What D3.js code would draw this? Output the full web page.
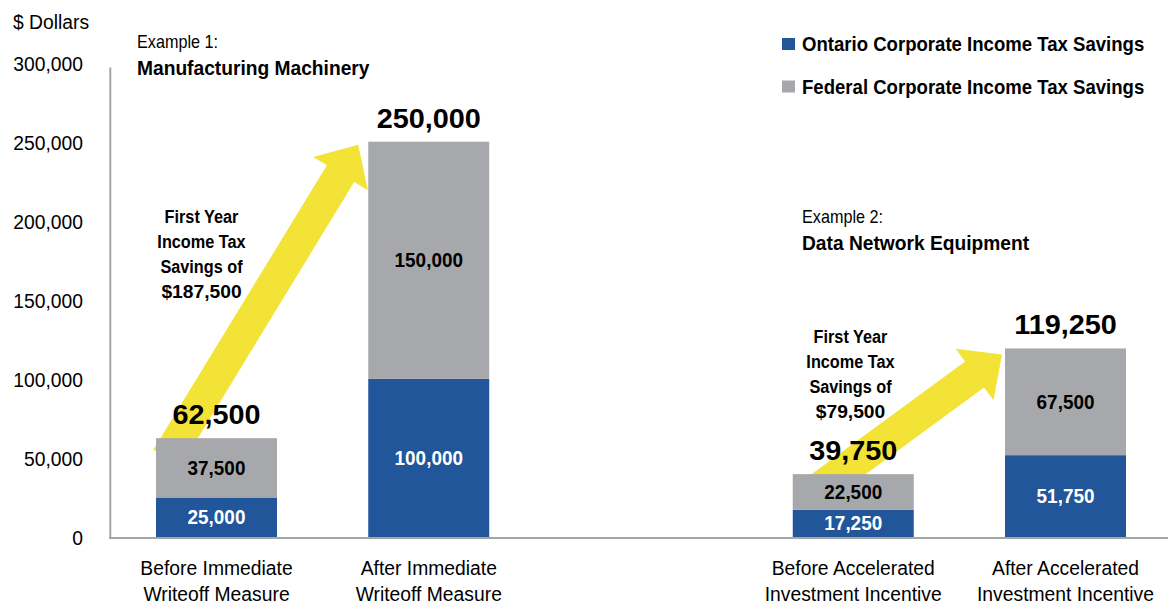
<!DOCTYPE html>
<html>
<head>
<meta charset="utf-8">
<script src="https://cdn.jsdelivr.net/npm/d3@7"></script>
<style>
  html, body { margin: 0; padding: 0; background: #fff; }
  svg { display: block; font-family: "Liberation Sans", Arial, sans-serif; }
</style>
</head>
<body>
<svg id="chart" width="1168" height="606"></svg>
<script>
// ---- Data ----
const categories = [
  ["Before Immediate", "Writeoff Measure"],
  ["After Immediate", "Writeoff Measure"],
  ["Before Accelerated", "Investment Incentive"],
  ["After Accelerated", "Investment Incentive"]
];
const ontarioSavings = [25000, 100000, 17250, 51750];
const federalSavings = [37500, 150000, 22500, 67500];
const seriesNames = ["Ontario Corporate Income Tax Savings", "Federal Corporate Income Tax Savings"];
const yTicks = [0, 50000, 100000, 150000, 200000, 250000, 300000];
const exampleLabels = ["Example 1:", "Example 2:"];
const exampleNames = ["Manufacturing Machinery", "Data Network Equipment"];
// each example compares a "before" bar with an "after" bar
const examplePairs = [[0, 1], [2, 3]];

// ---- Styles ----
const BLUE = "#21579a";
const GRAY = "#a7a8ab";
const YELLOW = "#f2e336";
const AXIS = "#a6a6a6";

const W = 1168, H = 606;
const plot = { left: 110, right: 1168, top: 62.6, bottom: 537 };

const svg = d3.select("#chart");

// horizontal slots: one empty slot separates the two examples
const slotKeys = ["c0", "c1", "gap", "c2", "c3"];
const x = d3.scaleBand()
  .domain(slotKeys)
  .range([156, 1126])
  .paddingInner(0.43)
  .paddingOuter(0);
const xKey = i => slotKeys[i < 2 ? i : i + 1];

const y = d3.scaleLinear().domain([0, 300000]).range([plot.bottom, plot.top]);

const fmt = d3.format(",");
const totals = ontarioSavings.map((v, i) => v + federalSavings[i]);

// text helper: horizontally scaled to get a condensed face
function drawText(parent, px, py, str, o) {
  return parent.append("text")
    .attr("transform", `translate(${px},${py}) scale(${o.sx ?? 1},1)`)
    .attr("text-anchor", o.anchor || "start")
    .attr("font-size", o.size)
    .attr("font-weight", o.bold ? 700 : 400)
    .attr("fill", o.fill || "#000")
    .text(str);
}

// arrow polygon from a tail point to a tip point
function arrowPoints(x0, y0, x1, y1, shaftW, headW, headL) {
  const dx = x1 - x0, dy = y1 - y0, L = Math.hypot(dx, dy);
  const ux = dx / L, uy = dy / L, nx = -uy, ny = ux;
  const bx = x1 - ux * headL, by = y1 - uy * headL;
  const s = shaftW / 2, h = headW / 2;
  return [
    [x0 + nx * s, y0 + ny * s],
    [bx + nx * s, by + ny * s],
    [bx + nx * h, by + ny * h],
    [x1, y1],
    [bx - nx * h, by - ny * h],
    [bx - nx * s, by - ny * s],
    [x0 - nx * s, y0 - ny * s]
  ];
}

// ---- Y axis ----
const yAxis = d3.axisLeft(y).tickValues(yTicks).tickSize(0).tickPadding(0).tickFormat(fmt);
const yAxisG = svg.append("g").attr("transform", `translate(83,0)`).call(yAxis);
yAxisG.select(".domain").remove();
yAxisG.selectAll(".tick text")
  .attr("x", 0)
  .attr("dy", null)
  .attr("y", 7.5)
  .attr("font-family", "Liberation Sans, Arial, sans-serif")
  .attr("font-size", 21)
  .attr("fill", "#000")
  .attr("text-anchor", "end")
  .attr("transform", "scale(0.92,1)");

svg.append("line")
  .attr("x1", plot.left + 0.3).attr("x2", plot.left + 0.3)
  .attr("y1", y(300000) + 5).attr("y2", plot.bottom + 2)
  .attr("stroke", AXIS).attr("stroke-width", 2);

drawText(svg, 13, 29, "$ Dollars", { size: 21, sx: 0.92 });

// ---- Arrows (behind bars) ----
const arrowSpecs = [
  { from: 0, to: 1, dx0: 11, dy0: 20, dx1: -10, dy1: 3 },
  { from: 2, to: 3, dx0: 20, dy0: 19, dx1: -3, dy1: 6 }
];
arrowSpecs.forEach(a => {
  const x0 = x(xKey(a.from)) + a.dx0, y0 = y(totals[a.from]) + a.dy0;
  const x1 = x(xKey(a.to)) + a.dx1, y1 = y(totals[a.to]) + a.dy1;
  svg.append("polygon")
    .attr("points", arrowPoints(x0, y0, x1, y1, 32, 64, 34).map(p => p.join(",")).join(" "))
    .attr("fill", YELLOW);
});

// ---- Stacked bars ----
const bw = x.bandwidth();
const barsG = svg.append("g");
categories.forEach((c, i) => {
  const bx = x(xKey(i));
  barsG.append("rect")
    .attr("x", bx).attr("width", bw)
    .attr("y", y(ontarioSavings[i])).attr("height", y(0) - y(ontarioSavings[i]))
    .attr("fill", BLUE);
  barsG.append("rect")
    .attr("x", bx).attr("width", bw)
    .attr("y", y(totals[i])).attr("height", y(ontarioSavings[i]) - y(totals[i]))
    .attr("fill", GRAY);

  // segment values
  const cx = bx + bw / 2;
  const midBlue = (y(0) + y(ontarioSavings[i])) / 2;
  const midGray = (y(ontarioSavings[i]) + y(totals[i])) / 2;
  drawText(svg, cx, midBlue + 7, fmt(ontarioSavings[i]), { size: 19.5, bold: true, sx: 0.97, anchor: "middle", fill: "#fff" });
  drawText(svg, cx, midGray + 7, fmt(federalSavings[i]), { size: 19.5, bold: true, sx: 0.97, anchor: "middle", fill: "#000" });

  // totals
  drawText(svg, cx, y(totals[i]) - 14, fmt(totals[i]), { size: 28, bold: true, sx: 1.03, anchor: "middle" });

  // category labels
  c.forEach((line, k) => {
    drawText(svg, cx, 575 + k * 26, line, { size: 21, sx: 0.92, anchor: "middle" });
  });
});

// ---- X axis line ----
svg.append("line")
  .attr("x1", plot.left - 0.7).attr("x2", W)
  .attr("y1", plot.bottom + 1).attr("y2", plot.bottom + 1)
  .attr("stroke", AXIS).attr("stroke-width", 2);

// ---- Example titles ----
const titlePos = [{ x: 137, y: 48 }, { x: 802, y: 223 }];
exampleLabels.forEach((lbl, e) => {
  drawText(svg, titlePos[e].x, titlePos[e].y, lbl, { size: 18, sx: 0.9 });
  drawText(svg, titlePos[e].x, titlePos[e].y + 27, exampleNames[e], { size: 20, bold: true, sx: 0.96 });
});

// ---- First-year savings notes ----
const notePos = [{ x: 201.5, y: 223 }, { x: 850.5, y: 343 }];
examplePairs.forEach(([b, a], e) => {
  const lines = ["First Year", "Income Tax", "Savings of", "$" + fmt(totals[a] - totals[b])];
  lines.forEach((ln, k) => {
    const numeric = k === 3;
    drawText(svg, notePos[e].x, notePos[e].y + k * 25, ln,
      { size: 18.5, bold: true, sx: numeric ? 1.04 : 0.88, anchor: "middle" });
  });
});

// ---- Legend ----
const legendColors = [BLUE, GRAY];
seriesNames.forEach((name, i) => {
  const ly = 38 + i * 42.5;
  svg.append("rect").attr("x", 782).attr("y", ly).attr("width", 13).attr("height", 12).attr("fill", legendColors[i]);
  drawText(svg, 802, ly + 13, name, { size: 21, bold: true, sx: 0.885 });
});
</script>
</body>
</html>
